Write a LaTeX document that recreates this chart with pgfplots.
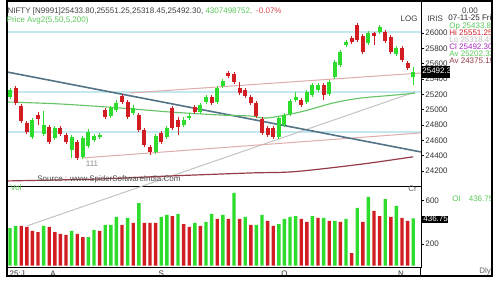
\documentclass[border=0pt]{standalone}
\usepackage{fontspec}
\setmainfont{Liberation Sans}
\usepackage{pgfplots}
\usepackage{pgfplotstable}
\pgfplotsset{compat=1.18}
\definecolor{cg}{RGB}{45,220,45}
\definecolor{cr}{RGB}{210,30,35}
\definecolor{ma50}{RGB}{100,195,100}
\definecolor{ma200}{RGB}{150,60,70}
\definecolor{slate}{RGB}{85,115,135}
\definecolor{pinkl}{RGB}{222,172,172}
\definecolor{grayl}{RGB}{195,195,195}
\definecolor{cyanl}{RGB}{195,232,240}
\definecolor{txtg}{RGB}{90,200,90}
\definecolor{purp}{RGB}{170,40,190}
\newcommand{\tf}{\fontsize{4}{4.5}\selectfont}

\pgfplotstableread{
x o h l c
0 25165 25282 25139 25256
4 24643 24891 24617 24865
6 24682 24982 24656 24800
8 24630 24787 24604 24761
11 24474 24669 24370 24643
13 24383 24656 24356 24630
14 24526 24748 24500 24709
15 24604 24682 24578 24656
16 24643 24696 24617 24669
18 24917 25048 24891 25022
19 24995 25126 24969 25087
22 24956 25061 24930 25022
26 24448 24682 24422 24656
28 24643 24787 24617 24761
31 24800 24904 24774 24865
32 24891 24956 24865 24917
34 24969 25087 24943 25061
35 25100 25191 25074 25165
37 25100 25308 25074 25282
38 25308 25400 25282 25374
48 24643 24917 24617 24891
49 24800 24956 24774 24930
50 24943 25139 24917 25113
51 25126 25230 25100 25165
53 25100 25256 25074 25230
54 25191 25347 25165 25321
55 25256 25347 25230 25321
57 25204 25387 25178 25361
58 25426 25647 25400 25621
59 25582 25778 25556 25752
60 25843 25908 25817 25882
64 25869 26026 25843 25999
66 26013 26104 25986 26078
69 25726 25830 25700 25804
72 25433.80 25551.25 25318.45 25492.30
}\greenc

\pgfplotstableread{
x o h l c
1 25282 25308 25061 25087
2 25048 25074 24826 24852
3 24826 24852 24682 24709
5 24930 24969 24800 24878
7 24774 24800 24552 24578
9 24761 24787 24656 24682
10 24669 24696 24552 24578
12 24578 24604 24343 24370
17 24995 25022 24878 24904
20 25178 25204 25074 25100
21 25100 25126 24878 24904
23 24930 24956 24709 24735
24 24735 24761 24513 24539
25 24513 24539 24409 24448
27 24696 24722 24552 24578
29 25022 25048 24735 24761
30 24865 24904 24669 24774
33 25035 25061 24943 24969
36 25165 25191 25061 25087
39 25478 25504 25413 25439
40 25465 25491 25334 25361
41 25282 25361 25191 25217
42 25256 25282 25152 25178
43 25165 25191 25061 25087
44 25087 25113 24891 24917
45 24878 24904 24669 24696
46 24761 24787 24643 24669
47 24761 24787 24617 24643
52 25126 25152 25035 25061
56 25321 25347 25126 25191
61 25934 25960 25856 25882
62 26104 26130 25882 25908
63 25960 25986 25726 25752
65 25999 26013 25843 25960
67 26013 26039 25869 25895
68 25947 25973 25726 25752
70 25804 25830 25621 25647
71 25608 25634 25517 25543
}\redc

\pgfplotstableread{
x v
0 347
1 366
6 366
11 320
14 264
15 329
17 375
18 375
19 449
21 440
23 578
27 449
28 468
30 477
33 394
35 403
36 477
38 468
40 671
42 449
44 375
45 468
48 384
49 431
50 449
51 458
54 458
56 440
58 412
60 431
62 532
64 634
67 615
69 551
72 436.75
}\volg

\pgfplotstableread{
x v
2 366
3 357
4 320
5 310
7 357
8 310
9 292
10 283
12 292
13 264
16 320
20 375
22 394
24 394
25 394
26 394
29 458
31 384
32 357
34 366
37 431
39 431
41 431
43 375
46 412
47 366
52 431
53 403
55 440
57 412
59 403
61 116
63 403
65 505
66 458
68 449
70 440
71 412
}\volr

\begin{document}
\begin{tikzpicture}[x=1pt,y=1pt]
\useasboundingbox (0,0) rectangle (250,140);
\fill[white] (0,0) rectangle (250,140);

% volume panel
\begin{axis}[at={(3.5pt,6.5pt)}, anchor=south west, scale only axis,
  width=207pt, height=40.5pt,
  xmin=-0.54, xmax=73.39, ymin=-13, ymax=735,
  axis line style={line width=0.5pt},
  scaled y ticks=false,
  ytick={200,600}, yticklabels={200,{}}, yticklabel pos=right, ytick pos=right,
  tick align=outside, major tick length=1.5pt,
  tick style={black, line width=0.4pt},
  xtick={1.3,7.7,27,49,69.8}, xticklabels={25:J,A,S,O,N},
  xtick style={draw=none},
  xticklabel style={font=\tf, inner sep=0.3pt, text=black!80},
  yticklabel style={font=\tf, inner sep=0.5pt, text=black!80}]
\addplot[ybar, bar width=1.7pt, bar shift=0pt, fill=cg, draw=none] table[x=x,y=v] {\volg};
\addplot[ybar, bar width=1.7pt, bar shift=0pt, fill=cr, draw=none] table[x=x,y=v] {\volr};
\end{axis}

% price panel
\begin{axis}[at={(3.5pt,47pt)}, anchor=south west, scale only axis,
  width=207pt, height=92.5pt,
  xmin=-0.54, xmax=73.39, ymin=24004, ymax=26417,
  clip=false,
  axis line style={line width=0.5pt},
  xtick=\empty,
  scaled y ticks=false,
  ytick={24200,24400,...,26000}, yticklabel pos=right, ytick pos=right,
  tick align=outside, major tick length=1.5pt,
  tick style={black, line width=0.4pt},
  yticklabel style={font=\tf, inner sep=0.5pt, text=black!80,
    /pgf/number format/fixed, /pgf/number format/precision=0},
  /pgf/number format/assume math mode=true,
  /pgf/number format/set thousands separator={}]
% horizontal levels
\addplot[cyanl, line width=0.6pt] coordinates {(-0.54,26013) (73.39,26013)};
\addplot[cyanl, line width=0.6pt] coordinates {(-0.54,25230) (73.39,25230)};
\addplot[cyanl, line width=0.6pt] coordinates {(-0.54,24709) (73.39,24709)};
% trend lines
\addplot[grayl, line width=0.5pt] coordinates {(3.0,23483) (72.3,25230)};
\addplot[pinkl, line width=0.5pt] coordinates {(13.0,24370) (73.39,24696)};
\addplot[pinkl, line width=0.5pt] coordinates {(21.4,25217) (73.39,25478)};
\addplot[slate, line width=0.8pt] coordinates {(-0.54,25491) (73.39,24448)};
% moving averages
\addplot[ma50, line width=0.55pt, smooth] coordinates {(-0.54,25100) (8.9,25074) (19.6,25022) (28.6,24969) (37.5,24930) (42.9,24917) (45.9,24891) (51.8,24969) (57.7,25087) (62.5,25150) (67.9,25185) (72.3,25215)};
\addplot[ma200, line width=0.6pt, smooth] coordinates {(-0.54,24070) (16.1,24096) (28.6,24135) (42.9,24174) (50,24187) (57.1,24239) (64.3,24304) (72,24385)};
% candles: wicks
\addplot[draw=none, mark=none, forget plot, error bars/.cd, y dir=both, y explicit, error mark=none, error bar style={line width=0.5pt, draw=cg}]
  table[x=x, y expr={(\thisrow{h}+\thisrow{l})/2}, y error expr={(\thisrow{h}-\thisrow{l})/2}] {\greenc};
\addplot[draw=none, mark=none, forget plot, error bars/.cd, y dir=both, y explicit, error mark=none, error bar style={line width=0.5pt, draw=cr}]
  table[x=x, y expr={(\thisrow{h}+\thisrow{l})/2}, y error expr={(\thisrow{h}-\thisrow{l})/2}] {\redc};
% candles: bodies
\addplot[draw=none, mark=none, forget plot, error bars/.cd, y dir=both, y explicit, error mark=none, error bar style={line width=2pt, draw=cg}]
  table[x=x, y expr={(\thisrow{o}+\thisrow{c})/2}, y error expr={(\thisrow{c}-\thisrow{o})/2+4}] {\greenc};
\addplot[draw=none, mark=none, forget plot, error bars/.cd, y dir=both, y explicit, error mark=none, error bar style={line width=2pt, draw=cr}]
  table[x=x, y expr={(\thisrow{o}+\thisrow{c})/2}, y error expr={(\thisrow{o}-\thisrow{c})/2+4}] {\redc};
\end{axis}

% separators and frame
\draw[line width=0.5pt] (210.5,6.5) -- (210.5,2);
\draw[line width=1pt] (3.5,2) rectangle (246,139.5);

% value boxes
\fill[black] (210.5,101) rectangle (225,107);
\node[anchor=base west, inner sep=0, font=\tf, text=white] at (211,103.3) {25492.3};
\fill[black] (210.5,28.6) rectangle (224,32.2);
\node[anchor=base west, inner sep=0, font=\tf, text=white] at (211.5,29.2) {436.75};
\node[anchor=west, inner sep=0, font=\tf, text=black!80] at (212.6,39.7) {600};

\begin{scope}
\clip (4,2.5) rectangle (245.5,139);
\node[anchor=base west, inner sep=0, font=\tf, text=black!75] at (3.6,133.5) {NIFTY [N9991]25433.80,25551.25,25318.45,25492.30, \textcolor{txtg}{4307498752,}\hspace{2pt}\textcolor{cr!80}{-0.07\%}};
\node[anchor=base west, inner sep=0, font=\tf, text=txtg] at (3.2,129) {Price Avg2(5,50,5,200)};
\node[anchor=base east, inner sep=0, font=\tf, text=black!75] at (209,129.5) {LOG};
\node[anchor=base west, inner sep=0, font=\tf, text=black!75] at (213.5,129.5) {IRIS};
\node[anchor=base, inner sep=0, font=\tf, text=black!75] at (235,133.5) {0.00};
\node[anchor=base west, inner sep=0, font=\tf, text=black!85] at (224,130) {07-11-25 Fri};
\node[anchor=base west, inner sep=0, font=\tf, text=txtg] at (224.5,126) {Op 25433.80};
\node[anchor=base west, inner sep=0, font=\tf, text=cr] at (224.5,122.5) {Hi 25551.25};
\node[anchor=base west, inner sep=0, font=\tf, text=black!25] at (224.5,119) {Lo 25318.45};
\node[anchor=base west, inner sep=0, font=\tf, text=purp] at (224.5,115.2) {Cl 25492.30};
\node[anchor=base west, inner sep=0, font=\tf, text=txtg] at (224.5,112) {Av 25202.33};
\node[anchor=base west, inner sep=0, font=\tf, text=ma200] at (224.5,108.5) {Av 24375.19};
\node[anchor=base west, inner sep=0, font=\tf, text=black!70] at (18.5,49.5) {Source : www.SpiderSoftwareIndia.Com};
\node[anchor=base, inner sep=0, font=\tf, text=black!45] at (46,57) {111};
\node[anchor=base west, inner sep=0, font=\tf, text=txtg] at (5,44.8) {Vol};
\node[anchor=base west, inner sep=0, font=\tf, text=black!60] at (204,44.5) {Cr};
\node[anchor=base west, inner sep=0, font=\tf, text=txtg] at (226,39.5) {OI\hspace{4pt}436.75};
\node[anchor=base west, inner sep=0, font=\tf, text=black!60] at (239.5,3.2) {Dly};
\end{scope}
\end{tikzpicture}
\end{document}
